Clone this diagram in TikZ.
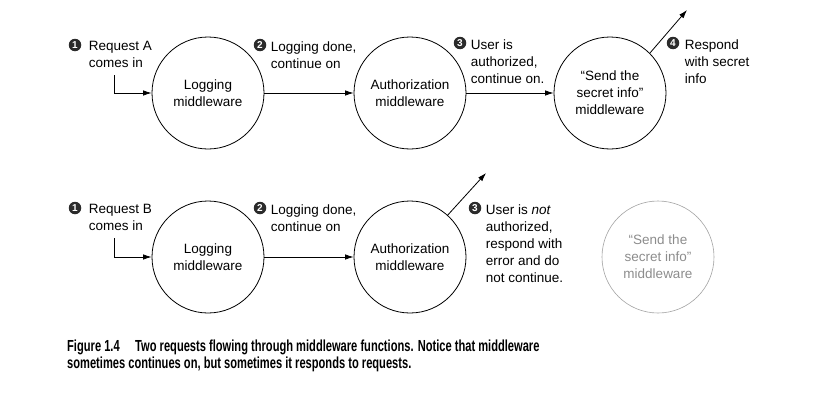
\documentclass[tikz,border=0pt]{standalone}
\usepackage{fontspec}
\setmainfont{Liberation Sans}
\newfontfamily\capfont[FakeStretch=0.695]{Liberation Sans}
\usetikzlibrary{arrows.meta,positioning}
\definecolor{BallColor}{HTML}{2B2B2B}
\definecolor{GhostGray}{HTML}{8C8C8C}

\begin{document}
\begin{tikzpicture}[x=1pt, y=-1pt,
    every node/.style={font=\fontsize{13.5}{17}\selectfont},
    mw/.style={circle, draw, line width=0.8pt, minimum size=112pt,
               align=center, inner sep=0pt},
    ball/.style={circle, fill=BallColor, text=white, minimum size=12.5pt,
                 inner sep=0pt, font=\fontsize{10}{10}\selectfont\bfseries},
    note/.style={anchor=north west, align=left, inner sep=0pt},
    flow/.style={-{Latex[length=8.5pt,width=5.5pt]}, line width=0.8pt},
    capt/.style={anchor=base west, inner sep=0pt,
                 font=\capfont\fontsize{16}{17}\selectfont\bfseries}]
  \useasboundingbox (0,0) rectangle (814,415);

  % request A: every middleware continues on
  \node[mw] (logA)  at (208,93) {Logging\\middleware};
  \node[mw] (authA) at (410,93) {Authorization\\middleware};
  \node[mw] (sendA) at (610,93) {``Send the\\secret info''\\middleware};
  \coordinate (inA)  at (114,75);
  \coordinate (outA) at (687,10);
  \draw[flow] (inA) |- (logA);
  \draw[flow] (logA) -- (authA);
  \draw[flow] (authA) -- (sendA);
  \draw[flow] (sendA.45) -- (outA);

  \node[ball] (b1A) at (75,45) {1};
  \node[note] (t1A) at ([xshift=9pt,yshift=-1pt]b1A.north east) {Request A\\comes in};
  \node[ball] (b2A) at (260,45) {2};
  \node[note] (t2A) at ([xshift=6pt,yshift=-1pt]b2A.north east) {Logging done,\\continue on};
  \node[ball] (b3A) at (460,43) {3};
  \node[note] (t3A) at ([xshift=6pt,yshift=-1pt]b3A.north east) {User is\\authorized,\\continue on.};
  \node[ball] (b4A) at (673,43) {4};
  \node[note] (t4A) at ([xshift=7pt,yshift=-1pt]b4A.north east) {Respond\\with secret\\info};

  % request B: authorization answers with an error
  \node[mw] (logB)  at (208,257) {Logging\\middleware};
  \node[mw] (authB) at (410,257) {Authorization\\middleware};
  \node[mw, draw=GhostGray!80, text=GhostGray, line width=0.6pt]
        (sendB) at (658,257) {``Send the\\secret info''\\middleware};
  \coordinate (inB)  at (114,238);
  \coordinate (outB) at (486,173);
  \draw[flow] (inB) |- (logB);
  \draw[flow] (logB) -- (authB);
  \draw[flow] (authB.48) -- (outB);

  \node[ball] (b1B) at (75,208) {1};
  \node[note] (t1B) at ([xshift=9pt,yshift=-1pt]b1B.north east) {Request B\\comes in};
  \node[ball] (b2B) at (260,208) {2};
  \node[note] (t2B) at ([xshift=6pt,yshift=-1pt]b2B.north east) {Logging done,\\continue on};
  \node[ball] (b3B) at (475,208) {3};
  \node[note] (t3B) at ([xshift=6pt,yshift=-1pt]b3B.north east)
        {User is \textit{not}\\authorized,\\respond with\\error and do\\not continue.};

  % caption
  \node[capt] (fig)  at (67,351)  {Figure 1.4};
  \node[capt] (cap1) at (135,351) {Two requests flowing through middleware functions. Notice that middleware};
  \node[capt] (cap2) at (67,368)  {sometimes continues on, but sometimes it responds to requests.};
\end{tikzpicture}
\end{document}
